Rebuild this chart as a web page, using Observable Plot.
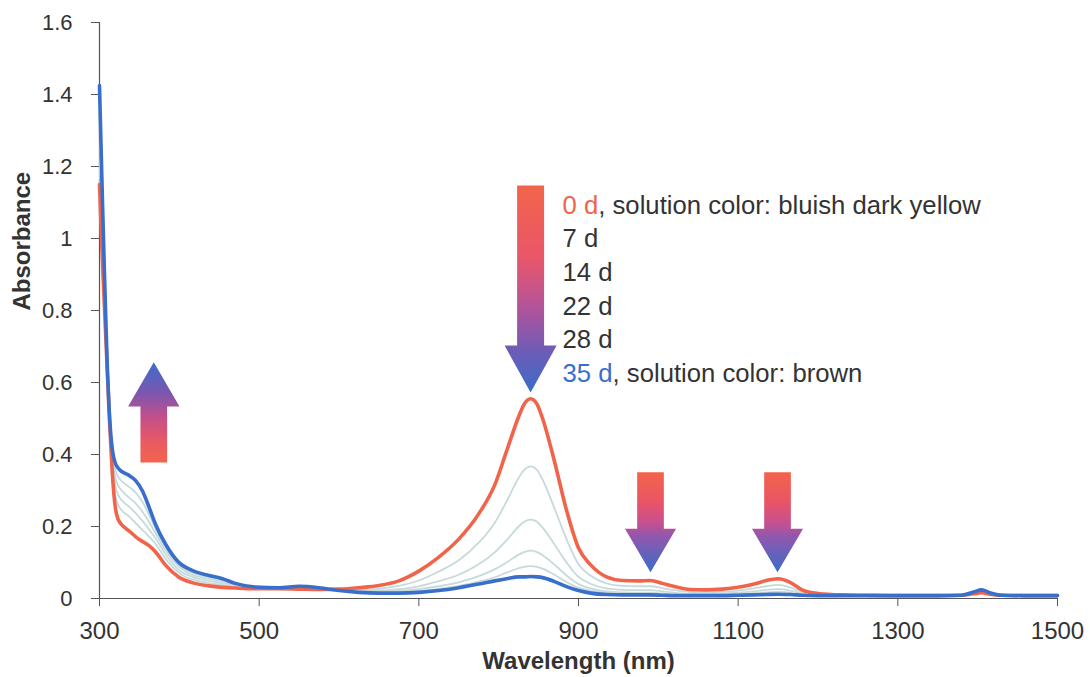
<!DOCTYPE html>
<html>
<head>
<meta charset="utf-8">
<script src="https://cdn.jsdelivr.net/npm/d3@7"></script>
<script src="https://cdn.jsdelivr.net/npm/@observablehq/plot@0.6"></script>
<style>
  html, body { margin: 0; padding: 0; background: #fff; }
  #chart { width: 1090px; height: 677px; }
</style>
</head>
<body>
<div id="chart"></div>
<script>
// ---------- data ----------
const wavelength = [
  300,302,304,306,308,310,312,314,316,318,320,
  323,326,330,337,345,354,362,370,383,399,
  416,437,454,470,495,525,550,575,600,
  625,650,675,700,725,750,775,795,810,825,
  832,840,848,855,870,885,900,915,935,955,975,990,
  1005,1020,1040,1060,1080,1100,1120,1135,1150,1165,
  1180,1200,1230,1260,1300,1350,1380,1395,1405,1415,
  1430,1460,1500
];
const day0 = [
  1.15,1.03,0.92,0.82,0.72,0.62,0.52,0.43,0.35,0.29,0.25,
  0.222,0.21,0.2,0.188,0.172,0.158,0.147,0.13,0.092,0.06,
  0.044,0.035,0.031,0.029,0.027,0.027,0.026,0.025,0.026,
  0.03,0.036,0.049,0.076,0.115,0.165,0.235,0.315,0.41,0.505,
  0.54,0.555,0.54,0.50,0.38,0.245,0.14,0.094,0.06,0.05,0.049,0.05,
  0.042,0.033,0.025,0.024,0.026,0.031,0.04,0.05,0.055,0.045,
  0.024,0.014,0.01,0.009,0.008,0.008,0.009,0.013,0.016,0.012,
  0.009,0.008,0.008
];
const day7 = [
  1.22,1.09,0.97,0.85,0.74,0.63,0.53,0.45,0.38,0.32,0.285,
  0.262,0.25,0.24,0.228,0.21,0.19,0.172,0.152,0.11,0.072,
  0.053,0.043,0.038,0.034,0.029,0.027,0.027,0.026,0.025,
  0.024,0.027,0.035,0.05,0.075,0.106,0.155,0.21,0.27,0.335,
  0.357,0.367,0.357,0.33,0.25,0.165,0.095,0.064,0.042,0.035,0.034,0.034,
  0.029,0.023,0.018,0.017,0.019,0.022,0.028,0.034,0.038,0.031,
  0.018,0.012,0.009,0.008,0.008,0.008,0.009,0.014,0.018,0.014,
  0.009,0.008,0.008
];
const day14 = [
  1.29,1.14,1.0,0.87,0.75,0.63,0.53,0.455,0.39,0.345,0.31,
  0.29,0.278,0.268,0.255,0.238,0.215,0.192,0.168,0.122,0.08,
  0.06,0.049,0.043,0.037,0.03,0.028,0.029,0.027,0.024,
  0.021,0.022,0.026,0.034,0.048,0.066,0.095,0.128,0.162,0.2,
  0.213,0.219,0.213,0.197,0.15,0.1,0.06,0.041,0.028,0.024,0.023,0.023,
  0.02,0.016,0.013,0.013,0.014,0.016,0.02,0.024,0.026,0.022,
  0.014,0.01,0.009,0.008,0.008,0.008,0.009,0.015,0.02,0.015,
  0.009,0.008,0.008
];
const day22 = [
  1.35,1.19,1.04,0.89,0.76,0.63,0.53,0.46,0.40,0.36,0.335,
  0.315,0.305,0.295,0.28,0.265,0.24,0.213,0.182,0.133,0.089,
  0.066,0.055,0.048,0.039,0.031,0.029,0.031,0.028,0.023,
  0.019,0.019,0.021,0.026,0.034,0.045,0.062,0.081,0.1,0.122,
  0.129,0.133,0.129,0.12,0.094,0.064,0.04,0.028,0.02,0.017,0.016,0.016,
  0.014,0.012,0.011,0.011,0.011,0.012,0.015,0.017,0.019,0.016,
  0.011,0.009,0.008,0.008,0.008,0.008,0.009,0.016,0.021,0.015,
  0.009,0.008,0.008
];
const day28 = [
  1.39,1.22,1.06,0.9,0.76,0.63,0.53,0.46,0.41,0.375,0.355,
  0.34,0.33,0.322,0.31,0.295,0.268,0.233,0.195,0.142,0.095,
  0.072,0.06,0.052,0.041,0.031,0.03,0.032,0.029,0.023,
  0.018,0.017,0.018,0.021,0.027,0.035,0.047,0.059,0.072,0.084,
  0.088,0.09,0.088,0.083,0.066,0.046,0.03,0.022,0.016,0.014,0.013,0.013,
  0.012,0.01,0.009,0.009,0.009,0.01,0.012,0.014,0.015,0.013,
  0.01,0.008,0.008,0.008,0.008,0.008,0.009,0.017,0.022,0.016,
  0.009,0.008,0.008
];
const day35 = [
  1.425,1.25,1.08,0.92,0.77,0.63,0.53,0.46,0.415,0.39,0.375,
  0.363,0.356,0.35,0.342,0.328,0.298,0.254,0.207,0.15,0.101,
  0.078,0.064,0.055,0.042,0.032,0.03,0.034,0.03,0.022,
  0.017,0.015,0.015,0.017,0.022,0.03,0.04,0.049,0.055,0.06,
  0.06,0.061,0.06,0.058,0.047,0.033,0.022,0.015,0.011,0.01,0.01,0.01,
  0.009,0.008,0.008,0.008,0.008,0.009,0.01,0.011,0.012,0.011,
  0.009,0.008,0.008,0.008,0.008,0.008,0.009,0.018,0.024,0.016,
  0.009,0.008,0.008
];
const seriesNames = ["0 d","7 d","14 d","22 d","28 d","35 d"];
const seriesValues = [day0, day7, day14, day22, day28, day35];
const legendSuffix = [", solution color: bluish dark yellow", "", "", "", "", ", solution color: brown"];
const xTicks = [300,500,700,900,1100,1300,1500];
const yTicks = [0,0.2,0.4,0.6,0.8,1,1.2,1.4,1.6];

// ---------- styling / annotation geometry ----------
const RED = "#f0644b", BLUE = "#3a6ecb", GRAY = "#c6dadb", TEXT = "#333";
const FONT = "'Liberation Sans', Arial, Helvetica, sans-serif";
const legendX = 880, legendTop = 1.092, legendStep = 0.0935, legendSize = 25.7;
// arrows: center wavelength, shaft/head half widths (nm), tail, head base, tip (absorbance)
const arrows = [
  {id: "big",  grad: "gDown",  cx: 840,    sh: 16.9, hh: 32.6, tail: 1.147, base: 0.703, tip: 0.572},
  {id: "up",   grad: "gUp",    cx: 368,    sh: 16.7, hh: 32.2, tail: 0.378, base: 0.533, tip: 0.656},
  {id: "s1",   grad: "gSmall", cx: 990.2,  sh: 16.7, hh: 32.0, tail: 0.351, base: 0.194, tip: 0.073},
  {id: "s2",   grad: "gSmall", cx: 1149.3, sh: 16.7, hh: 32.0, tail: 0.351, base: 0.194, tip: 0.073}
];

// ---------- build tables ----------
const rows = [];
seriesNames.forEach((name, s) => {
  seriesValues[s].forEach((v, i) => rows.push({series: name, wl: wavelength[i], a: v}));
});
const grayRows = rows.filter(r => r.series !== "0 d" && r.series !== "35 d");
const redRows = rows.filter(r => r.series === "0 d");
const blueRows = rows.filter(r => r.series === "35 d");

function arrowPoly(a) {
  return [
    {x: a.cx - a.sh, y: a.tail}, {x: a.cx + a.sh, y: a.tail},
    {x: a.cx + a.sh, y: a.base}, {x: a.cx + a.hh, y: a.base},
    {x: a.cx, y: a.tip},
    {x: a.cx - a.hh, y: a.base}, {x: a.cx - a.sh, y: a.base}
  ].map(p => ({...p, id: a.id, grad: a.grad}));
}
const arrowMarks = arrows.map(a =>
  Plot.line(arrowPoly(a), {x: "x", y: "y", z: "id", fill: `url(#${a.grad})`, stroke: "none", curve: "linear"})
);

// measure prefix widths for coloured legend runs
const ctx = document.createElement("canvas").getContext("2d");
ctx.font = `${legendSize}px ${FONT}`;
const legendRows = seriesNames.map((n, i) => ({
  name: n, suffix: legendSuffix[i], x: legendX, y: legendTop - i * legendStep,
  color: i === 0 ? RED : i === 5 ? BLUE : TEXT, w: ctx.measureText(n).width
}));

const chart = Plot.plot({
  width: 1090, height: 677,
  marginLeft: 99, marginRight: 33, marginTop: 22, marginBottom: 79,
  style: {fontFamily: FONT, background: "white", color: TEXT},
  x: {type: "linear", domain: [300, 1500]},
  y: {type: "linear", domain: [0, 1.6]},
  marks: [
    Plot.axisX({ticks: xTicks, tickSize: 8, tickPadding: 15, fontSize: 24, label: null, stroke: "#555", tickFormat: d => String(d)}),
    Plot.axisY({ticks: yTicks, tickSize: 8, tickPadding: 19, fontSize: 22, label: null, stroke: "#555", tickFormat: d => String(d)}),
    Plot.ruleX([300], {stroke: "#555", strokeWidth: 1.2}),
    Plot.ruleY([0], {stroke: "#555", strokeWidth: 1.2}),
    Plot.line(grayRows, {x: "wl", y: "a", z: "series", stroke: GRAY, strokeWidth: 1.8, curve: "monotone-x"}),
    Plot.line(redRows, {x: "wl", y: "a", stroke: RED, strokeWidth: 3.6, curve: "monotone-x"}),
    Plot.line(blueRows, {x: "wl", y: "a", stroke: BLUE, strokeWidth: 3.6, curve: "monotone-x"}),
    ...arrowMarks,
    Plot.text(legendRows, {x: "x", y: "y", text: "name", fill: "color", fontSize: legendSize, textAnchor: "start"}),
    ...legendRows.filter(r => r.suffix).map(r =>
      Plot.text([r], {x: "x", y: "y", text: "suffix", fill: TEXT, fontSize: legendSize, textAnchor: "start", dx: r.w})
    ),
    Plot.text(["Wavelength (nm)"], {text: d => d, frameAnchor: "bottom", dy: 70, fontSize: 24, fontWeight: "bold", fill: TEXT}),
    Plot.text(["Absorbance"], {text: d => d, frameAnchor: "left", dx: -77, rotate: -90, fontSize: 24, fontWeight: "bold", fill: TEXT})
  ]
});

// gradient definitions for the arrows
const NS = "http://www.w3.org/2000/svg";
const defs = document.createElementNS(NS, "defs");
function grad(id, stops) {
  const g = document.createElementNS(NS, "linearGradient");
  g.setAttribute("id", id);
  g.setAttribute("x1", "0"); g.setAttribute("y1", "0");
  g.setAttribute("x2", "0"); g.setAttribute("y2", "1");
  stops.forEach(([o, c]) => {
    const s = document.createElementNS(NS, "stop");
    s.setAttribute("offset", o); s.setAttribute("stop-color", c);
    g.appendChild(s);
  });
  defs.appendChild(g);
}
grad("gDown", [[0, "#f3644a"], [0.35, "#e9566a"], [0.6, "#b0539c"], [0.8, "#6d5cb6"], [1, "#3a6dc8"]]);
grad("gUp", [[0, "#3d6cc8"], [0.3, "#7a57b0"], [0.55, "#c34f8a"], [0.8, "#ea5a62"], [1, "#f2644b"]]);
grad("gSmall", [[0, "#f3644a"], [0.3, "#ea5466"], [0.5, "#c84f8f"], [0.65, "#8f58ae"], [1, "#3a6cc8"]]);
chart.insertBefore(defs, chart.firstChild);

document.getElementById("chart").appendChild(chart);
</script>
</body>
</html>
